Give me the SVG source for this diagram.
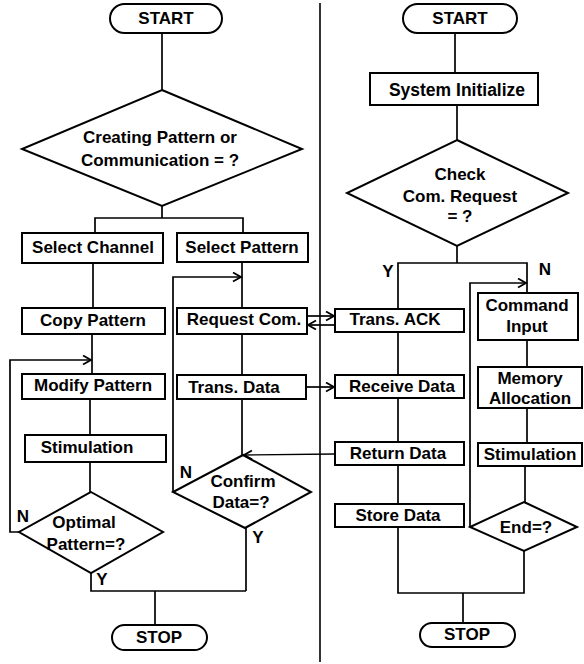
<svg xmlns="http://www.w3.org/2000/svg" width="584" height="664" viewBox="0 0 584 664">
<defs>
<marker id="arr" markerUnits="userSpaceOnUse" markerWidth="12" markerHeight="12" refX="9" refY="5" orient="auto">
<path d="M1,0.5 L9,5 L1,9.5" fill="none" stroke="#000" stroke-width="1.8"/>
</marker>
</defs>
<style>
.s{fill:#fff;stroke:#000;stroke-width:2}
.t{font-family:"Liberation Sans",Arial,sans-serif;font-weight:bold;font-size:17px;text-anchor:middle;fill:#000}
.c{fill:none;stroke:#000;stroke-width:1.7}
.a{fill:none;stroke:#000;stroke-width:1.7;marker-end:url(#arr)}
.d{fill:none;stroke:#000;stroke-width:1.6}
</style>
<rect width="584" height="664" fill="#fff"/>
<g id="connectors">
<line class="d" x1="320" y1="3" x2="320" y2="662"/>
<polyline class="c" points="162,33 162,90"/>
<polyline class="c" points="162,206 162,218"/>
<polyline class="c" points="95,233 95,218 243,218 243,233"/>
<polyline class="c" points="93,263 93,308"/>
<polyline class="c" points="92,334 92,374"/>
<polyline class="a" points="19,532 10,532 10,360 91,360"/>
<polyline class="c" points="90,399 90,435"/>
<polyline class="c" points="90,462 90,492"/>
<polyline class="c" points="91,573 91,591 246,591"/>
<polyline class="c" points="155,591 155,625"/>
<polyline class="c" points="242,262 242,308"/>
<polyline class="a" points="173,492 173,277 241,277"/>
<polyline class="a" points="307,316 334,316"/>
<polyline class="a" points="335,325 308,325"/>
<polyline class="c" points="242,334 242,375"/>
<polyline class="a" points="306,387 334,387"/>
<polyline class="c" points="242,399 242,455"/>
<polyline class="a" points="335,454 244,455" style="stroke-width:1.3"/>
<polyline class="c" points="246,528 246,591"/>
<polyline class="c" points="455,33 455,73"/>
<polyline class="c" points="457,105 457,140"/>
<polyline class="c" points="457,246 457,263"/>
<polyline class="c" points="398,309 398,263 527,263 527,293"/>
<polyline class="a" points="470,527 470,283 526,283"/>
<polyline class="c" points="398,332 398,375"/>
<polyline class="c" points="398,398 398,442"/>
<polyline class="c" points="398,465 398,504"/>
<polyline class="c" points="398,527 398,593 524,593 524,551"/>
<polyline class="c" points="463,593 463,623"/>
<polyline class="c" points="527,340 527,367"/>
<polyline class="c" points="527,408 527,443"/>
<polyline class="c" points="525,466 525,502"/>
</g>
<g id="start1"><rect class="s" x="110" y="4" width="112" height="29" rx="14.5"/><text class="t" x="166" y="24">START</text></g>
<g id="decide1"><polygon class="s" points="162,90 302,149 162,206 22,149"/><text class="t" x="160" y="143">Creating Pattern or</text><text class="t" x="160" y="166">Communication = ?</text></g>
<g id="selectChannel"><rect class="s" x="22" y="233" width="141" height="30"/><text class="t" x="93" y="253">Select Channel</text></g>
<g id="copyPattern"><rect class="s" x="22" y="308" width="143" height="26"/><text class="t" x="93" y="326">Copy Pattern</text></g>
<g id="modifyPattern"><rect class="s" x="22" y="374" width="143" height="25"/><text class="t" x="93" y="391">Modify Pattern</text></g>
<g id="stimulation1"><rect class="s" x="25" y="435" width="141" height="27"/><text class="t" x="87" y="453">Stimulation</text></g>
<g id="optimal"><polygon class="s" points="91,492 163,532 91,573 19,532"/><text class="t" x="84" y="528">Optimal</text><text class="t" x="86" y="550">Pattern=?</text></g>
<g id="labels-left"><text class="t" x="23" y="522">N</text><text class="t" x="102" y="585">Y</text><text class="t" x="186" y="478">N</text><text class="t" x="258" y="543">Y</text></g>
<g id="stop1"><rect class="s" x="112" y="625" width="95" height="25" rx="12.5"/><text class="t" x="159" y="643">STOP</text></g>
<g id="selectPattern"><rect class="s" x="177" y="233" width="131" height="29"/><text class="t" x="242" y="253">Select Pattern</text></g>
<g id="requestCom"><rect class="s" x="177" y="308" width="130" height="26"/><text class="t" x="244" y="325">Request Com.</text></g>
<g id="transData"><rect class="s" x="177" y="375" width="129" height="24"/><text class="t" x="234" y="393">Trans. Data</text></g>
<g id="confirm"><polygon class="s" points="243,455 311,492 245,528 173,492"/><text class="t" x="243" y="487">Confirm</text><text class="t" x="241" y="508">Data=?</text></g>
<g id="start2"><rect class="s" x="403" y="4" width="114" height="29" rx="14.5"/><text class="t" x="460" y="24">START</text></g>
<g id="sysInit"><rect class="s" x="370" y="73" width="168" height="32"/><text class="t" x="457" y="96" style="font-size:17.5px">System Initialize</text></g>
<g id="checkCom"><polygon class="s" points="457,140 568,193 457,246 347,193"/><text class="t" x="460" y="180">Check</text><text class="t" x="460" y="202">Com. Request</text><text class="t" x="460" y="222">= ?</text></g>
<g id="labels-right"><text class="t" x="388" y="277">Y</text><text class="t" x="545" y="275">N</text></g>
<g id="transAck"><rect class="s" x="335" y="309" width="129" height="23"/><text class="t" x="395" y="325">Trans. ACK</text></g>
<g id="receiveData"><rect class="s" x="335" y="375" width="129" height="23"/><text class="t" x="402" y="392">Receive Data</text></g>
<g id="returnData"><rect class="s" x="335" y="442" width="129" height="23"/><text class="t" x="398" y="459">Return Data</text></g>
<g id="storeData"><rect class="s" x="335" y="504" width="129" height="23"/><text class="t" x="398" y="521">Store Data</text></g>
<g id="commandInput"><rect class="s" x="478" y="293" width="100" height="47"/><text class="t" x="527" y="311">Command</text><text class="t" x="527" y="332">Input</text></g>
<g id="memoryAlloc"><rect class="s" x="478" y="367" width="104" height="41"/><text class="t" x="530" y="384">Memory</text><text class="t" x="530" y="404">Allocation</text></g>
<g id="stimulation2"><rect class="s" x="478" y="443" width="104" height="23"/><text class="t" x="530" y="460">Stimulation</text></g>
<g id="endCheck"><polygon class="s" points="524,502 577,527 524,551 470,527"/><text class="t" x="526" y="533">End=?</text></g>
<g id="stop2"><rect class="s" x="420" y="623" width="95" height="24" rx="12"/><text class="t" x="467" y="640">STOP</text></g>
</svg>
